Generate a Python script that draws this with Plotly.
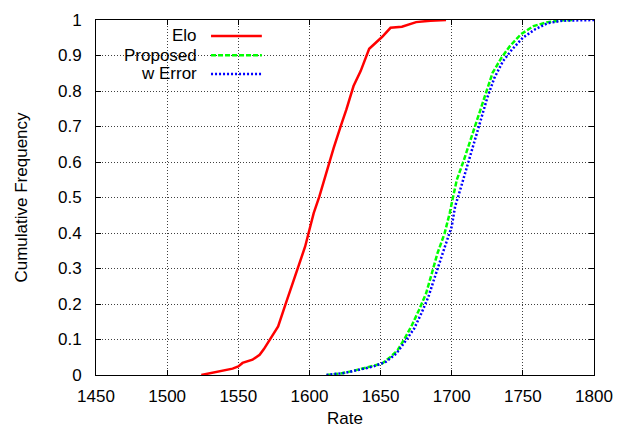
import plotly.graph_objects as go

# ---- data ----
elo_rate = [1524, 1532, 1540, 1546, 1550, 1553, 1560, 1565, 1568, 1572, 1578, 1583, 1588, 1592,
            1597, 1600, 1603, 1607, 1610, 1613.5, 1617, 1622, 1626, 1631, 1636, 1642, 1651, 1657,
            1665, 1675, 1685, 1696]
elo_cf = [0.0, 0.006, 0.013, 0.018, 0.024, 0.034, 0.043, 0.057, 0.073, 0.098, 0.137, 0.197, 0.258,
          0.305, 0.362, 0.409, 0.456, 0.503, 0.545, 0.597, 0.639, 0.701, 0.748, 0.814, 0.856, 0.919,
          0.952, 0.978, 0.981, 0.994, 0.998, 1.0]

prop_rate = [1612, 1622, 1630, 1642, 1651, 1657, 1662, 1667, 1672, 1677, 1682, 1686, 1690, 1695,
             1698.6, 1701, 1703.6, 1708.6, 1712.4, 1716, 1720, 1723.7, 1728.7, 1735, 1741, 1748.7,
             1757.5, 1767.5, 1777.5, 1785]
prop_cf = [0.0, 0.004, 0.011, 0.023, 0.032, 0.051, 0.07, 0.103, 0.14, 0.183, 0.23, 0.286, 0.343,
           0.399, 0.456, 0.503, 0.55, 0.606, 0.653, 0.696, 0.748, 0.795, 0.851, 0.894, 0.927, 0.96,
           0.983, 0.994, 0.999, 1.0]

err_rate = [1612, 1625, 1635, 1645, 1653.6, 1661, 1667, 1673.6, 1678.6, 1683.6, 1687.4, 1692.4,
            1696, 1700, 1702.4, 1706, 1710, 1713.6, 1717.4, 1721.2, 1725, 1730, 1736, 1742.4, 1750,
            1758.7, 1767.5, 1777.5, 1800]
err_cf = [0.0, 0.006, 0.015, 0.024, 0.037, 0.06, 0.093, 0.131, 0.173, 0.22, 0.267, 0.324, 0.371,
          0.418, 0.475, 0.522, 0.578, 0.63, 0.682, 0.729, 0.781, 0.837, 0.884, 0.917, 0.95, 0.974,
          0.991, 0.998, 1.0]

series_names = ["Elo", "Proposed", "w Error"]
x_ticks = [1450, 1500, 1550, 1600, 1650, 1700, 1750, 1800]
y_ticks = [0, 0.1, 0.2, 0.3, 0.4, 0.5, 0.6, 0.7, 0.8, 0.9, 1]
y_tick_text = ["0", "0.1", "0.2", "0.3", "0.4", "0.5", "0.6", "0.7", "0.8", "0.9", "1"]

# ---- styles ----
colors = ["#ff0000", "#00ff00", "#0000ff"]
dashes = ["solid", "5px,2px", "2px,2px"]
FONT = "Liberation Sans, Arial, sans-serif"
FS = 17
LW = 2.5

fig = go.Figure()
for name, xs, ys, c, d in zip(series_names, [elo_rate, prop_rate, err_rate],
                              [elo_cf, prop_cf, err_cf], colors, dashes):
    fig.add_trace(go.Scatter(x=xs, y=ys, mode="lines", name=name, showlegend=False,
                             line=dict(color=c, width=LW, dash=d)))

# legend (gnuplot style: right-aligned text, sample to the right)
shapes = [dict(type="rect", xref="paper", yref="paper", x0=0.008, x1=0.353, y0=0.83, y1=0.99,
               fillcolor="white", line=dict(width=0), layer="between")]
annotations = []
row_y = [0.955, 0.901, 0.848]
for name, c, d, yy in zip(series_names, colors, dashes, row_y):
    annotations.append(dict(xref="paper", yref="paper", x=0.207, y=yy, text=name,
                            xanchor="right", yanchor="middle", showarrow=False,
                            font=dict(family=FONT, size=FS, color="black")))
    shapes.append(dict(type="line", xref="paper", yref="paper", x0=0.231, x1=0.333, y0=yy, y1=yy,
                       line=dict(color=c, width=LW, dash=d), layer="above"))

axis_common = dict(showline=True, linecolor="black", linewidth=1, mirror="allticks",
                   ticks="inside", ticklen=5, tickcolor="black", showgrid=True,
                   gridcolor="rgba(0,0,0,0.75)", gridwidth=1, griddash="1px,2px",
                   zeroline=False, tickfont=dict(family=FONT, size=FS, color="black"))

fig.update_xaxes(range=[1450, 1800], tickvals=x_ticks, ticktext=[str(v) for v in x_ticks],
                 title=dict(text="Rate", font=dict(family=FONT, size=FS, color="black"), standoff=10),
                 ticklabelstandoff=6, **axis_common)
fig.update_yaxes(range=[0, 1], tickvals=y_ticks, ticktext=y_tick_text,
                 title=dict(text="Cumulative Frequency", font=dict(family=FONT, size=FS, color="black"),
                            standoff=26),
                 ticklabelstandoff=10, **axis_common)

fig.update_layout(width=618, height=428, margin=dict(l=96, r=24, t=20, b=53, autoexpand=False),
                  paper_bgcolor="white", plot_bgcolor="white", shapes=shapes,
                  annotations=annotations, font=dict(family=FONT, size=FS, color="black"))

fig.write_html("out.html", config={"displayModeBar": False},
               post_script="document.body.style.margin='0';document.body.style.overflow='hidden';")
